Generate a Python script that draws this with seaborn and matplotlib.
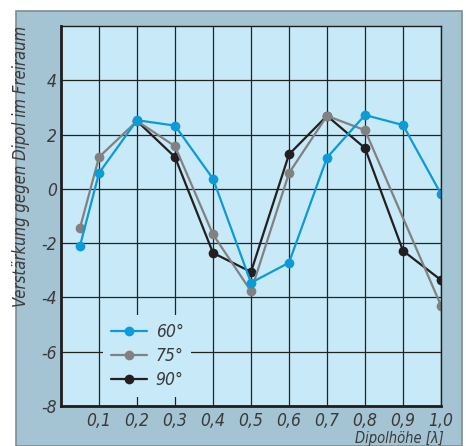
import matplotlib
matplotlib.use("Agg")
import matplotlib.pyplot as plt
from matplotlib.patches import Rectangle
import numpy as np
import pandas as pd
import seaborn as sns

# Dipolhöhe in Wellenlängen
hoehe = [0.05, 0.1, 0.2, 0.3, 0.4, 0.5, 0.6, 0.7, 0.8, 0.9, 1.0]
gain_60 = [-2.1, 0.58, 2.53, 2.33, 0.37, -3.46, -2.72, 1.15, 2.72, 2.35, -0.19]
gain_75 = [-1.44, 1.17, 2.5, 1.57, -1.68, -3.77, 0.58, 2.69, 2.16, np.nan, -4.3]
gain_90 = [np.nan, np.nan, 2.5, 1.17, -2.36, -3.06, 1.27, 2.69, 1.5, -2.28, -3.36]

winkel = ["60°", "75°", "90°"]
farben = {"60°": "#0b9bd7", "75°": "#818181", "90°": "#231f20"}
x_ticks = [0.1, 0.2, 0.3, 0.4, 0.5, 0.6, 0.7, 0.8, 0.9, 1.0]
x_labels = ["0,1", "0,2", "0,3", "0,4", "0,5", "0,6", "0,7", "0,8", "0,9", "1,0"]
y_ticks = [-8, -6, -4, -2, 0, 2, 4]

df = pd.DataFrame({
    "hoehe": hoehe * 3,
    "gain": gain_60 + gain_75 + gain_90,
    "winkel": ["60°"] * 11 + ["75°"] * 11 + ["90°"] * 11,
})

sns.set_style("white")
plt.rcParams["font.family"] = ["DejaVu Sans"]
plt.rcParams["font.stretch"] = "condensed"
txt = "#3a3a3a"

fig = plt.figure(figsize=(4.66, 4.46), dpi=100)
fig.patch.set_facecolor("white")
# outer panel
fig.patches.append(Rectangle((16 / 466, 0), 446 / 466, 1 - 11 / 446, transform=fig.transFigure,
                             facecolor="#a4c3d3", edgecolor="#7f8c92", lw=1.2, zorder=-10))

ax = fig.add_axes([61 / 466, 1 - 406 / 446, 380 / 466, 380 / 446])
ax.set_facecolor("#c8e9f8")

# drawn bottom to top: 90, 75, 60
for w in ["90°", "75°", "60°"]:
    sns.lineplot(data=df[df["winkel"] == w], x="hoehe", y="gain", color=farben[w],
                 marker="o", markersize=7, markeredgewidth=0, linewidth=1.6,
                 label=w, ax=ax)

ax.set_xlim(0, 1.0)
ax.set_ylim(-8, 6)
ax.set_xticks(x_ticks)
ax.set_xticklabels(x_labels)
ax.set_yticks(y_ticks)
ax.set_yticklabels([str(v) for v in y_ticks])
ax.grid(True, color="#232323", lw=0.9)
ax.set_axisbelow(True)
ax.tick_params(length=0, labelsize=12.5, labelcolor=txt)
ax.tick_params(axis="x", pad=4)
ax.tick_params(axis="y", pad=3)
for lab in ax.get_xticklabels() + ax.get_yticklabels():
    lab.set_style("italic")
for s in ax.spines.values():
    s.set_color("#1e1e1e")
    s.set_linewidth(1.0)
ax.spines["left"].set_linewidth(2)
ax.spines["bottom"].set_linewidth(2)

ax.set_ylabel("Verstärkung gegen Dipol im Freiraum", loc="top", fontsize=12,
              style="italic", color=txt, labelpad=8)
ax.set_xlabel("")
fig.text(444 / 466, 0.5 / 446, "Dipolhöhe [λ]", ha="right", va="bottom", fontsize=10.5,
         style="italic", color=txt)

handles, labels = ax.get_legend_handles_labels()
order = [labels.index(w) for w in winkel]
leg = ax.legend([handles[i] for i in order], winkel, loc="upper left",
                bbox_to_anchor=(0.11, 0.24), frameon=True, facecolor="#c8e9f8",
                edgecolor="none", framealpha=1, fontsize=12.5, handlelength=2.1,
                labelspacing=0.36, borderpad=0.45, handletextpad=0.5,
                borderaxespad=0)
for t in leg.get_texts():
    t.set_style("italic")
    t.set_color(txt)

fig.savefig("out.png", dpi=100)
